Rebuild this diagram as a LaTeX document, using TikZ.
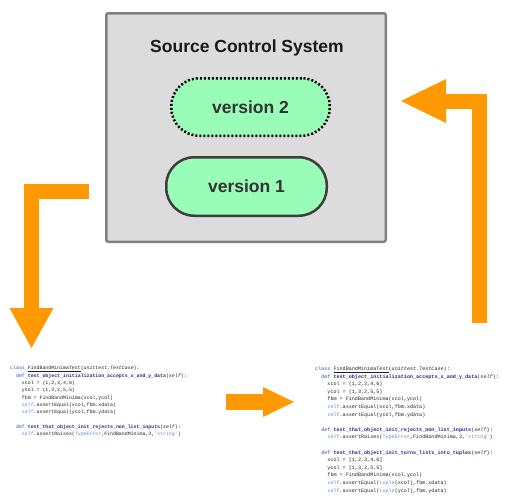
\documentclass[tikz,border=0pt]{standalone}
\usepackage{fontspec}
\setmainfont{Liberation Sans}
\setmonofont{Liberation Mono}
\usepackage{tikz}
\usetikzlibrary{arrows.meta,positioning}

\definecolor{boxgrey}{RGB}{220,220,220}
\definecolor{boxedge}{RGB}{128,128,128}
\definecolor{pillgreen}{RGB}{153,253,183}
\definecolor{pilledge}{RGB}{62,62,62}
\definecolor{labelgrey}{RGB}{51,51,51}
\definecolor{arroworange}{RGB}{255,153,0}
\definecolor{kwblue}{RGB}{40,80,210}
\definecolor{fnnavy}{RGB}{30,45,130}
\definecolor{selfblue}{RGB}{100,140,210}
\definecolor{codegrey}{RGB}{35,35,35}

\newcommand{\kwd}[1]{\textcolor{kwblue}{#1}}
\newcommand{\fnm}[1]{\textcolor{fnnavy}{\bfseries #1}}
\newcommand{\slf}{\textcolor{selfblue}{self}}
\newcommand{\blu}[1]{\textcolor{selfblue}{#1}}
\newcommand{\ind}{\hspace*{1.2em}}

\tikzset{
  pill/.style={rectangle, rounded corners=28pt, fill=pillgreen, text=labelgrey,
    font=\bfseries\fontsize{17.5}{20}\selectfont, inner sep=0pt},
  bigarrow/.style={draw=arroworange, line width=15pt, line join=miter},
  codeblock/.style={anchor=north west, inner sep=0pt, align=left, text=codegrey},
}

\begin{document}
\begin{tikzpicture}[x=1pt, y=-1pt]

      \useasboundingbox[fill=white] (0,0) rectangle (514,501);

      % the repository
      \node [rectangle, rounded corners=2pt, fill=boxgrey, draw=boxedge, line width=2.5pt,
             minimum width=279.5pt, minimum height=228.5pt] (scs) at (246,127.5) {};
      \node [text={rgb,255:red,25;green,25;blue,25}, font=\bfseries\fontsize{17.5}{20}\selectfont]
            (title) at (247,48) {Source Control System};

      \node [pill, minimum width=158.5pt, minimum height=57.5pt,
             preaction={draw=white, line width=2.5pt},
             draw=black, line width=2.5pt, dash pattern=on 2pt off 2pt]
            (v2) at (250.5,107) {version 2};
      \node [pill, minimum width=160.5pt, minimum height=58.5pt,
             draw=pilledge, line width=2.5pt] (v1) at (246.5,186.5) {version 1};

      % working copies
      \node [codeblock, font=\ttfamily\fontsize{4.9}{7.35}\selectfont] (oldcode) at (10,366) {%
        \kwd{class} \underline{FindBandMinimaTest}(\textit{unittest.TestCase}):\\
        \ind\kwd{def} \fnm{test\_object\_initialization\_accepts\_x\_and\_y\_data}(\textit{self}):\\
        \ind\ind xcol = (1,2,3,4,6)\\
        \ind\ind ycol = (1,3,2,5,5)\\
        \ind\ind fbm = FindBandMinima(xcol,ycol)\\
        \ind\ind\slf.assertEqual(xcol,fbm.xdata)\\
        \ind\ind\slf.assertEqual(ycol,fbm.ydata)\\[7.35pt]
        \ind\kwd{def} \fnm{test\_that\_object\_init\_rejects\_non\_list\_inputs}(\textit{self}):\\
        \ind\ind\slf.assertRaises(\blu{TypeError},FindBandMinima,3,\blu{'string'})};

      \node [codeblock, font=\ttfamily\fontsize{5.1}{7.6}\selectfont] (newcode) at (315,366.5) {%
        \kwd{class} \underline{FindBandMinimaTest}(\textit{unittest.TestCase}):\\
        \ind\kwd{def} \fnm{test\_object\_initialization\_accepts\_x\_and\_y\_data}(\textit{self}):\\
        \ind\ind xcol = (1,2,3,4,6)\\
        \ind\ind ycol = (1,3,2,5,5)\\
        \ind\ind fbm = FindBandMinima(xcol,ycol)\\
        \ind\ind\slf.assertEqual(xcol,fbm.xdata)\\
        \ind\ind\slf.assertEqual(ycol,fbm.ydata)\\[7.6pt]
        \ind\kwd{def} \fnm{test\_that\_object\_init\_rejects\_non\_list\_inputs}(\textit{self}):\\
        \ind\ind\slf.assertRaises(\blu{TypeError},FindBandMinima,3,\blu{'string'})\\[7.6pt]
        \ind\kwd{def} \fnm{test\_that\_object\_init\_turns\_lists\_into\_tuples}(\textit{self}):\\
        \ind\ind xcol = [1,2,3,4,6]\\
        \ind\ind ycol = [1,3,2,5,5]\\
        \ind\ind fbm = FindBandMinima(xcol,ycol)\\
        \ind\ind\slf.assertEqual(\blu{tuple}(xcol),fbm.xdata)\\
        \ind\ind\slf.assertEqual(\blu{tuple}(ycol),fbm.ydata)};

      % check out, edit, check in
      \coordinate (outstart) at (89,191);
      \coordinate (outbend)  at (31.5,191);
      \coordinate (outtip)   at (31.5,348);
      \draw [bigarrow, -{Triangle[width=44pt,length=40pt,line width=0pt]}] (outstart) -- (outbend) -- (outtip);

      \coordinate (editstart) at (226,402);
      \coordinate (edittip)   at (294,402);
      \draw [bigarrow, line width=16pt, -{Triangle[width=30pt,length=31pt,line width=0pt]}] (editstart) -- (edittip);

      \coordinate (instart) at (479.5,323);
      \coordinate (inbend)  at (479.5,101);
      \coordinate (intip)   at (401,101);
      \draw [bigarrow, -{Triangle[width=44pt,length=45pt,line width=0pt]}] (instart) -- (inbend) -- (intip);
    \end{tikzpicture}
\end{document}
